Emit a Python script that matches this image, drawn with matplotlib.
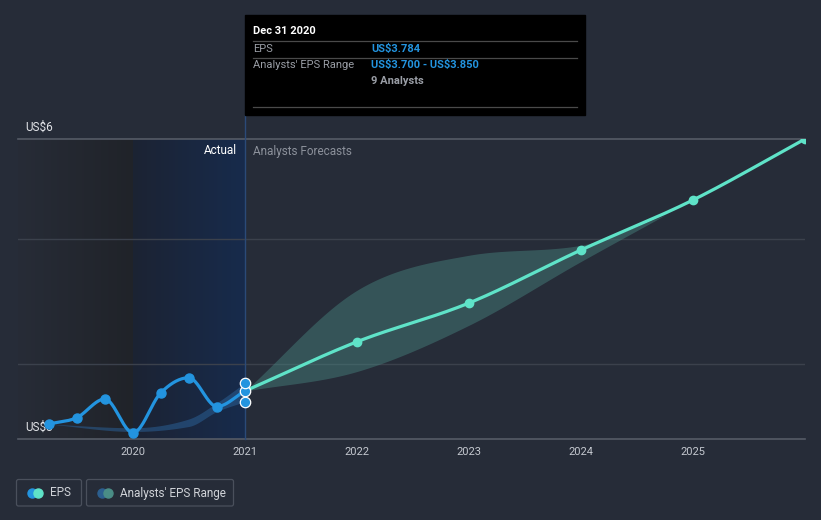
import numpy as np
import pandas as pd
import matplotlib
matplotlib.use('Agg')
import matplotlib.pyplot as plt
from matplotlib.patches import Rectangle, FancyBboxPatch
from matplotlib.colors import LinearSegmentedColormap

plt.rcParams['font.family'] = ['Roboto', 'DejaVu Sans']

# reported EPS (trailing twelve months)
actual_dates = ['2019-03-31', '2019-06-30', '2019-09-30', '2019-12-31',
                '2020-03-31', '2020-06-30', '2020-09-30', '2020-12-31']
actual_eps = [3.52, 3.57, 3.72, 3.45, 3.77, 3.89, 3.66, 3.784]

# past analysts' range
past_range_dates = ['2019-03-31', '2019-12-31', '2020-06-30', '2020-09-30', '2020-12-31']
past_range_low = [3.52, 3.46, 3.50, 3.62, 3.70]
past_range_high = [3.52, 3.49, 3.56, 3.69, 3.85]

# analysts' forecasts
forecast_dates = ['2020-12-31', '2021-12-31', '2022-12-31', '2023-12-31',
                  '2024-12-31', '2025-12-31']
forecast_eps = [3.784, 4.178, 4.488, 4.912, 5.312, 5.80]

range_dates = ['2020-12-31', '2021-12-31', '2022-12-31', '2023-12-31', '2024-09-30']
range_low = [3.784, 3.94, 4.31, 4.82, 5.19]
range_high = [3.784, 4.59, 4.87, 4.95, 5.19]

# tooltip for Dec 31 2020
tip_low, tip_eps, tip_high = 3.700, 3.784, 3.850
tip_date = '2020-12-31'

x_ticks = [2020, 2021, 2022, 2023, 2024, 2025]

BG = '#262c38'
BLUE = '#2394df'
TEAL = '#5fe3c8'


def dec_year(dates):
    d = pd.to_datetime(pd.Series(dates))
    days = np.where(d.dt.is_leap_year, 366, 365)
    return (d.dt.year + (d.dt.dayofyear) / days).to_numpy(dtype=float)


def monotone(x, y, n=40):
    # monotone cubic curve through the points (like d3 curveMonotoneX)
    x = np.asarray(x, float)
    y = np.asarray(y, float)
    h = np.diff(x)
    d = np.diff(y) / h
    m = np.zeros_like(y)
    m[0], m[-1] = d[0], d[-1]
    for i in range(1, len(y) - 1):
        if d[i - 1] * d[i] <= 0:
            m[i] = 0
        else:
            p = (d[i - 1] * h[i] + d[i] * h[i - 1]) / (h[i - 1] + h[i])
            m[i] = (np.sign(d[i - 1]) + np.sign(d[i])) * min(abs(d[i - 1]), abs(d[i]), 0.5 * abs(p))
    xs, ys = [], []
    t = np.linspace(0, 1, n)
    for i in range(len(h)):
        h00 = 2 * t**3 - 3 * t**2 + 1
        h10 = t**3 - 2 * t**2 + t
        h01 = -2 * t**3 + 3 * t**2
        h11 = t**3 - t**2
        xs.append(x[i] + t * h[i])
        ys.append(h00 * y[i] + h10 * h[i] * m[i] + h01 * y[i + 1] + h11 * h[i] * m[i + 1])
    return np.concatenate(xs), np.concatenate(ys)


def usd(v):
    return f'US\\${v:.3f}'


W, H = 821, 520
fig = plt.figure(figsize=(W / 100, H / 100), dpi=100, facecolor=BG)

x0, x1 = 2018.973, 2026.0
y0, y1 = 3.4, 5.8
ax = fig.add_axes([18 / W, 1 - 439 / H, 787 / W, 300 / H])
ax.set_facecolor(BG)
for s in ax.spines.values():
    s.set_visible(False)

# shaded past regions
grad = np.linspace(0, 1, 256).reshape(1, -1)
dark = LinearSegmentedColormap.from_list('dark', ['#272c37', '#202329'])
blue = LinearSegmentedColormap.from_list('blue', ['#1c2333', '#172b4c'])
ax.imshow(grad, cmap=dark, extent=[x0, 2020.0, y0, y1], aspect='auto', zorder=0)
ax.imshow(grad, cmap=blue, extent=[2020.0, 2021.0, y0, y1], aspect='auto', zorder=0)
ax.set_xlim(x0, x1)
ax.set_ylim(y0, y1)

# grid lines
ax.axhline(5.0, color='#3b414c', lw=1, zorder=1)
ax.axhline(4.0, color='#3b414c', lw=1, zorder=1)
ax.axhline(y1, color='#555b66', lw=1.2, zorder=1, clip_on=False)
ax.axhline(y0, color='#555b66', lw=1.2, zorder=1, clip_on=False)
ax.axvline(2021.0, ymin=0, ymax=(439 - 115) / 300, color='#2b4a78', lw=1, zorder=1, clip_on=False)

# ranges
rx, rl = monotone(dec_year(past_range_dates), past_range_low)
_, rh = monotone(dec_year(past_range_dates), past_range_high)
ax.fill_between(rx, rl, rh, color='#2a5e93', alpha=0.55, lw=0, zorder=2)

fx, fl = monotone(dec_year(range_dates), range_low)
_, fh = monotone(dec_year(range_dates), range_high)
ax.fill_between(fx, fl, fh, color='#4a8d86', alpha=0.42, lw=0, zorder=2)

# lines
ax_x = dec_year(actual_dates)
lx, ly = monotone(ax_x, actual_eps)
ax.plot(lx, ly, color=BLUE, lw=2.3, zorder=3, solid_capstyle='round')
ax.plot(ax_x[:-1], actual_eps[:-1], 'o', color=BLUE, ms=6.5, zorder=4)

fc_x = dec_year(forecast_dates)
gx, gy = monotone(fc_x, forecast_eps)
ax.plot(gx, gy, color=TEAL, lw=2.3, zorder=3, solid_capstyle='round')
ax.plot(fc_x[1:], forecast_eps[1:], 'o', color=TEAL, ms=6, zorder=4)

tx = dec_year([tip_date])[0]
ax.plot([tx] * 3, [tip_low, tip_eps, tip_high], 'o', color=BLUE, ms=7.5,
        mec='white', mew=0.9, zorder=5, clip_on=False)

# ticks
ax.set_yticks([])
ax.set_xticks(x_ticks)
ax.set_xticklabels([str(v) for v in x_ticks], color='#c4c8cf', fontsize=8)
ax.tick_params(axis='x', length=0, pad=6)

# labels inside plot
ax.text(7 / 787, 1 + 12 / 300, 'US\\$6', transform=ax.transAxes, color='#e2e4e8',
        fontsize=8.5, ha='left', va='center', zorder=1)
ax.text(7 / 787, 12 / 300, 'US\\$3', transform=ax.transAxes, color='#e2e4e8',
        fontsize=8.5, ha='left', va='center', zorder=1)
ax.text(2021.0 - 8 / 112, 1 - 12 / 300, 'Actual', transform=ax.get_xaxis_transform(),
        color='white', fontsize=8.5, ha='right', va='center', zorder=3)
ax.text(2021.0 + 8 / 112, 1 - 12 / 300, 'Analysts Forecasts', transform=ax.get_xaxis_transform(),
        color='#8c919b', fontsize=8.5, ha='left', va='center', zorder=3)

# overlay in pixel coordinates for tooltip and legend
ov = fig.add_axes([0, 0, 1, 1], zorder=10)
ov.set_xlim(0, W)
ov.set_ylim(H, 0)
ov.axis('off')

ov.add_patch(Rectangle((245, 15), 340, 100, color='black'))
for yy in (40.5, 57.5, 106.5):
    ov.plot([253, 577], [yy, yy], color='#4a4a4a', lw=0.9)
ov.text(253, 31, 'Dec 31 2020', color='white', fontsize=8, fontweight='bold', va='center')
ov.text(253, 48.5, 'EPS', color='#9a9ea6', fontsize=8, va='center')
ov.text(371, 48.5, usd(tip_eps), color=BLUE, fontsize=8, fontweight='bold', va='center')
ov.text(253, 65, "Analysts' EPS Range", color='#9a9ea6', fontsize=8, va='center')
ov.text(371, 65, f'{usd(tip_low)} - {usd(tip_high)}', color=BLUE, fontsize=8,
        fontweight='bold', va='center')
ov.text(371, 81, '9 Analysts', color='#9a9ea6', fontsize=8, fontweight='bold', va='center')

# legend
for bx, bw in ((16.5, 65), (86.5, 147)):
    ov.add_patch(FancyBboxPatch((bx, 479.5), bw, 26.5, boxstyle='round,pad=0,rounding_size=2',
                                fc='none', ec='#4a505c', lw=0.9))
ov.plot([31.7], [492.5], 'o', color=BLUE, ms=6.5)
ov.plot([37.5], [492.5], 'o', color=TEAL, ms=6.5)
ov.text(50, 493, 'EPS', color='#d0d3d8', fontsize=8.5, va='center')
ov.plot([101.7], [492.5], 'o', color='#2c5f8f', ms=6.5)
ov.plot([107.5], [492.5], 'o', color='#4a8d86', ms=6.5)
ov.text(120, 493, "Analysts' EPS Range", color='#d0d3d8', fontsize=8.5, va='center')

fig.savefig('out.png', dpi=100, facecolor=BG)
